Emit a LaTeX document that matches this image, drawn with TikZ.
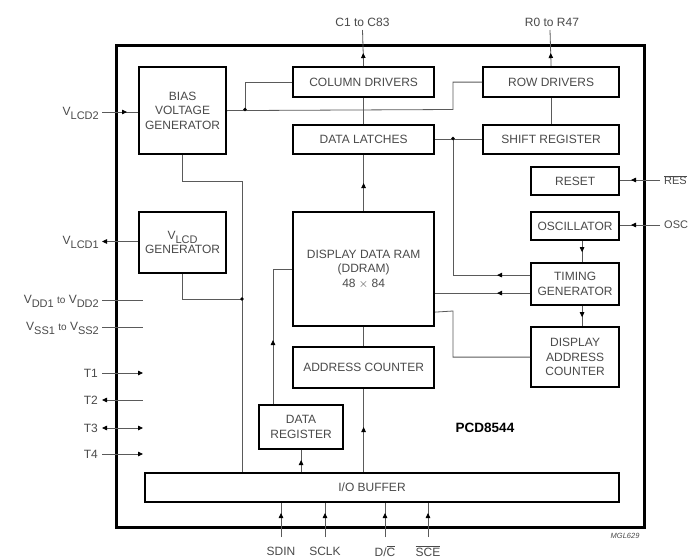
\documentclass[tikz,border=0pt]{standalone}
\usepackage{fontspec}
\setmainfont{Liberation Sans}
\usetikzlibrary{arrows.meta,decorations.markings}
\definecolor{txt}{HTML}{4A4A4A}
\definecolor{wirec}{HTML}{5A5A5A}
% lowered subscript used in the supply pin names
\newcommand\sbs[1]{\raisebox{-4pt}{\fontsize{11}{11}\selectfont #1}}
\newcommand\ovl[1]{$\overline{\hbox{#1}}$}
\begin{document}
\begin{tikzpicture}[x=1pt,y=-1pt,
  >={Triangle[length=5pt,width=4.5pt,color=black]},
  blk/.style={draw=black, line width=2.2pt, fill=white, text=txt,
    font=\fontsize{12}{14.5}\selectfont, align=center, inner sep=0pt,
    anchor=north west},
  wire/.style={draw=wirec, line width=0.8pt},
  am/.style={postaction={decorate}, decoration={markings,
    mark=at position #1 with {\arrow{>}}}},
  pin/.style={text=txt, font=\fontsize{12}{14}\selectfont, inner sep=0pt},
  junc/.style={circle, fill=black, inner sep=0pt, minimum size=3.6pt}
]
\useasboundingbox (0,0) rectangle (689,560);
\fill[white] (0,0) rectangle (689,560);

% chip outline
\node[draw=black, line width=2.6pt, minimum width=528pt, minimum height=482pt,
  inner sep=0pt, anchor=north west] (chip) at (115,44) {};

% functional blocks
\node[blk, minimum width=87pt, minimum height=87pt] (bias) at (138,66) {BIAS\\VOLTAGE\\GENERATOR};
\node[blk, minimum width=87pt, minimum height=61pt] (vlcdgen) at (138,211) {V\sbs{LCD}\\GENERATOR};
\node[blk, minimum width=141pt, minimum height=30pt] (coldrv) at (292,66) {COLUMN DRIVERS};
\node[blk, minimum width=141pt, minimum height=29pt] (latch) at (292,124) {DATA LATCHES};
\node[blk, minimum width=136pt, minimum height=30pt] (rowdrv) at (482,66) {ROW DRIVERS};
\node[blk, minimum width=136pt, minimum height=29pt] (shift) at (482,124) {SHIFT REGISTER};
\node[blk, minimum width=88pt, minimum height=28pt] (reset) at (530,166) {RESET};
\node[blk, minimum width=88pt, minimum height=28pt] (osc) at (530,211) {OSCILLATOR};
\node[blk, minimum width=88pt, minimum height=42pt] (timing) at (530,262) {TIMING\\GENERATOR};
\node[blk, minimum width=88pt, minimum height=60pt] (dac) at (530,326) {DISPLAY\\ADDRESS\\COUNTER};
\node[blk, minimum width=141pt, minimum height=114pt] (ddram) at (292,211) {DISPLAY DATA RAM\\(DDRAM)\\48 $\times$ 84};
\node[blk, minimum width=141pt, minimum height=41pt] (addr) at (292,346) {ADDRESS COUNTER};
\node[blk, minimum width=84pt, minimum height=44pt] (datareg) at (258,404) {DATA\\REGISTER};
\node[blk, minimum width=474pt, minimum height=29pt] (iobuf) at (144,472) {};
\node[pin] (iolbl) at (372,487) {I/O BUFFER};

% pin end points
\coordinate (pC) at (362.5,30);
\coordinate (pR) at (550,30);
\coordinate (pVLCD2) at (102,112);
\coordinate (pVLCD1) at (102,241.5);
\coordinate (pVDDa) at (102,300);  \coordinate (pVDDb) at (143,300);
\coordinate (pVSSa) at (102,327);  \coordinate (pVSSb) at (143,327);
\coordinate (pT1a) at (102,373);   \coordinate (pT1b) at (143,373);
\coordinate (pT2a) at (102,400);   \coordinate (pT2b) at (143,400);
\coordinate (pT3a) at (102,428);   \coordinate (pT3b) at (143,428);
\coordinate (pT4a) at (102,454);   \coordinate (pT4b) at (143,454);
\coordinate (pRES) at (660,180);
\coordinate (pOSC) at (660,225);
\coordinate (pSDIN) at (281,537);
\coordinate (pSCLK) at (325,537);
\coordinate (pDC) at (385,537);
\coordinate (pSCE) at (428,537);

% routing points
\coordinate (bdot) at (245,109.5);
\coordinate (bturn) at (453,109.5);
\coordinate (vbus) at (242,181);
\coordinate (vdot) at (242,299);
\coordinate (sdot) at (453,138.5);
\coordinate (t1) at ([yshift=9pt]timing.west);
\coordinate (t2) at ([yshift=-9pt]timing.west);
\coordinate (rd) at ([yshift=-43pt]ddram.east);
\coordinate (dturn) at (453,311);

% pin labels
\node[pin, anchor=south] (lC) at (362.5,27) {C1 to C83};
\node[pin, anchor=south] (lR) at (552,27) {R0 to R47};
\node[pin, anchor=base east] (lVLCD2) at (99,115) {V\sbs{LCD2}};
\node[pin, anchor=base east] (lVLCD1) at (99,244) {V\sbs{LCD1}};
\node[pin, anchor=base east] (lVDD) at (99,303) {V\sbs{DD1} {\fontsize{10}{10}\selectfont to} V\sbs{DD2}};
\node[pin, anchor=base east] (lVSS) at (99,330) {V\sbs{SS1} {\fontsize{10}{10}\selectfont to} V\sbs{SS2}};
\node[pin, anchor=east] (lT1) at (98,373) {T1};
\node[pin, anchor=east] (lT2) at (98,400) {T2};
\node[pin, anchor=east] (lT3) at (98,428) {T3};
\node[pin, anchor=east] (lT4) at (98,454) {T4};
\node[pin, anchor=west, font=\fontsize{11}{12}\selectfont] (lRES) at (664,180) {\ovl{RES}};
\node[pin, anchor=west, font=\fontsize{11}{12}\selectfont] (lOSC) at (664,225) {OSC};
\node[pin] (lSDIN) at (281,551) {SDIN};
\node[pin] (lSCLK) at (325,551) {SCLK};
\node[pin] (lDC) at (385,551) {D/\ovl{C}};
\node[pin] (lSCE) at (428,551) {\ovl{SCE}};
\node[text=black, font=\bfseries\fontsize{13.5}{14}\selectfont] (chipname) at (485,428) {PCD8544};
\node[text=txt, font=\itshape\fontsize{7.5}{8}\selectfont, anchor=east] (code) at (643,536) {MGL629};

% outputs to the display
\draw[wire, am=13pt] (coldrv.north) -- (pC);
\draw[wire, am=13pt] (rowdrv.north) -- (pR);

% column path
\draw[wire] (coldrv.south) -- (latch.north);
\draw[wire, am=28pt] (ddram.north) -- (latch.south);
\draw[wire] (ddram.south) -- (addr.north);
\draw[wire, am=45pt] (addr.south |- iobuf.north) -- (addr.south);
\draw[wire, am=12pt] (datareg.south |- iobuf.north) -- (datareg.south);
\draw[wire, am=64pt] ([xshift=15pt]datareg.north west) |- (ddram.west);

% row path
\draw[wire] (rowdrv.south) -- (shift.north);
\draw[wire] (shift.west) -- (latch.east);

% bias network
\draw[wire] (bias.east) -- (bturn) |- (rowdrv.west);
\draw[wire] (bdot) |- (coldrv.west);
\draw[wire] (bias.south) |- (vbus) -- (vbus |- iobuf.north);
\draw[wire] (vlcdgen.south) |- (vdot);

% timing
\draw[wire, am=11pt] ([xshift=7pt]osc.south) -- ([xshift=7pt]timing.north);
\draw[wire, am=11pt] ([xshift=7pt]timing.south) -- ([xshift=7pt]dac.north);
\draw[wire, am=33pt] (t1) -| (sdot);
\draw[wire, am=33pt] (t2) -- (t2 -| ddram.east);
\draw[wire] (rd) -- (dturn) |- (dac.west);

% external pins
\draw[wire, am=-11pt] (pVLCD2) -- (pVLCD2 -| bias.west);
\draw[wire, ->] (pVLCD1 -| vlcdgen.west) -- (pVLCD1);
\draw[wire] (pVDDa) -- (pVDDb);
\draw[wire] (pVSSa) -- (pVSSb);
\draw[wire, ->] (pT1a) -- (pT1b);
\draw[wire, <-] (pT2a) -- (pT2b);
\draw[wire, <->] (pT3a) -- (pT3b);
\draw[wire, ->] (pT4a) -- (pT4b);
\draw[wire, am=29pt] (pRES) -- (pRES -| reset.east);
\draw[wire, am=29pt] (pOSC) -- (pOSC -| osc.east);
\draw[wire, am=24pt] (pSDIN) -- (pSDIN |- iobuf.south);
\draw[wire, am=24pt] (pSCLK) -- (pSCLK |- iobuf.south);
\draw[wire, am=24pt] (pDC) -- (pDC |- iobuf.south);
\draw[wire, am=24pt] (pSCE) -- (pSCE |- iobuf.south);

% junctions
\node[junc] (j1) at (bdot) {};
\node[junc] (j2) at (sdot) {};
\node[junc] (j3) at (vdot) {};
\end{tikzpicture}
\end{document}
